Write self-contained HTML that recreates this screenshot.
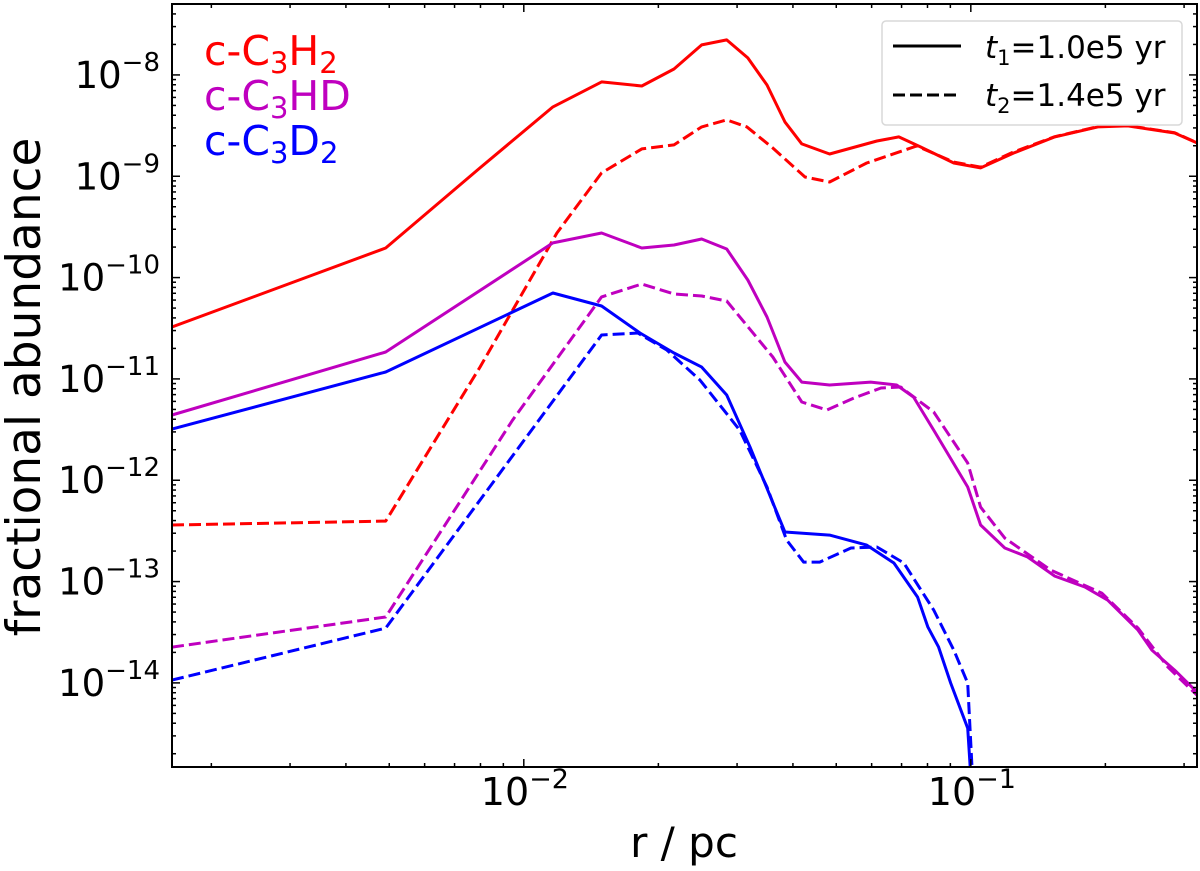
<!DOCTYPE html>
<html><head><meta charset="utf-8">
<style>
html,body{margin:0;padding:0;background:#fff;}
svg{display:block;font-family:"DejaVu Sans","Liberation Sans",sans-serif;}
</style></head>
<body>
<svg id="chart" width="1200" height="871" viewBox="0 0 1200 871" xmlns="http://www.w3.org/2000/svg">
<defs><clipPath id="plotclip"><rect x="172" y="4" width="1025" height="763"/></clipPath></defs>
<g id="series" clip-path="url(#plotclip)"></g>
<g id="axes"></g>
<g font-size="41">
  <text x="204" y="65" fill="#ff0000">c-C<tspan font-size="29" dy="8">3</tspan><tspan dy="-8">H</tspan><tspan font-size="29" dy="8">2</tspan></text>
  <text x="204" y="110" fill="#bf00bf">c-C<tspan font-size="29" dy="8">3</tspan><tspan dy="-8">HD</tspan></text>
  <text x="204" y="155" fill="#0000ff">c-C<tspan font-size="29" dy="8">3</tspan><tspan dy="-8">D</tspan><tspan font-size="29" dy="8">2</tspan></text>
</g>
<g>
  <rect x="882" y="21" width="300" height="104" rx="4" fill="#fff" stroke="#d8d8d8" stroke-width="1.5"/>
  <line x1="893" y1="46" x2="961" y2="46" stroke="#000" stroke-width="3"/>
  <line x1="893" y1="95" x2="961" y2="95" stroke="#000" stroke-width="3" stroke-dasharray="12,5"/>
  <text x="985" y="58" font-size="31"><tspan font-style="italic">t</tspan><tspan font-size="21" dy="7">1</tspan><tspan dy="-7">=1.0e5 yr</tspan></text>
  <text x="985" y="106" font-size="31"><tspan font-style="italic">t</tspan><tspan font-size="21" dy="7">2</tspan><tspan dy="-7">=1.4e5 yr</tspan></text>
</g>
<text x="684" y="857" font-size="42" text-anchor="middle">r / pc</text>
<text transform="translate(40,387) rotate(-90)" font-size="47" text-anchor="middle">fractional abundance</text>
</svg>
<script>
// log10(r / pc) and log10(abundance)
const h2SolidLogR = [-2.787,-2.309,-2.098,-1.935,-1.826,-1.736,-1.664,-1.602,-1.546,-1.499,-1.456,-1.416,-1.378,-1.316,-1.210,-1.161,-1.112,-1.038,-0.978,-0.904,-0.812,-0.716,-0.649,-0.544,-0.494];
const h2SolidLogY = [-10.488,-9.708,-8.918,-8.316,-8.069,-8.109,-7.941,-7.704,-7.654,-7.832,-8.099,-8.464,-8.681,-8.780,-8.652,-8.612,-8.711,-8.869,-8.918,-8.770,-8.612,-8.513,-8.503,-8.573,-8.671];
const h2DashLogR = [-2.787,-2.309,-2.098,-1.926,-1.826,-1.736,-1.664,-1.602,-1.546,-1.501,-1.443,-1.371,-1.316,-1.233,-1.121,-1.038,-0.978,-0.904,-0.812,-0.716,-0.649,-0.544,-0.494];
const h2DashLogY = [-12.442,-12.403,-10.883,-9.560,-8.967,-8.730,-8.691,-8.513,-8.444,-8.513,-8.721,-9.007,-9.057,-8.869,-8.701,-8.860,-8.910,-8.760,-8.610,-8.510,-8.500,-8.570,-8.670];
const hdSolidLogR = [-2.787,-2.309,-1.935,-1.826,-1.736,-1.664,-1.602,-1.546,-1.499,-1.456,-1.416,-1.378,-1.316,-1.224,-1.166,-1.128,-1.083,-1.007,-0.978,-0.924,-0.873,-0.812,-0.745,-0.694,-0.626,-0.595,-0.544,-0.494];
const hdSolidLogY = [-11.356,-10.734,-9.658,-9.560,-9.708,-9.678,-9.619,-9.718,-10.024,-10.389,-10.833,-11.031,-11.060,-11.031,-11.060,-11.179,-11.505,-12.067,-12.442,-12.669,-12.758,-12.946,-13.054,-13.183,-13.479,-13.676,-13.874,-14.091];
const hdDashLogR = [-2.787,-2.309,-2.025,-1.826,-1.736,-1.664,-1.602,-1.546,-1.443,-1.378,-1.322,-1.262,-1.201,-1.157,-1.083,-1.007,-0.978,-0.924,-0.821,-0.707,-0.626,-0.559,-0.494];
const hdDashLogY = [-13.647,-13.350,-11.406,-10.191,-10.063,-10.162,-10.182,-10.231,-10.784,-11.228,-11.307,-11.189,-11.090,-11.080,-11.327,-11.830,-12.265,-12.571,-12.887,-13.114,-13.459,-13.844,-14.121];
const d2SolidLogR = [-2.787,-2.309,-1.935,-1.826,-1.740,-1.664,-1.602,-1.546,-1.494,-1.416,-1.316,-1.233,-1.172,-1.119,-1.096,-1.072,-1.045,-1.007,-0.996];
const d2SolidLogY = [-11.495,-10.932,-10.152,-10.280,-10.547,-10.744,-10.883,-11.159,-11.672,-12.511,-12.541,-12.640,-12.817,-13.153,-13.449,-13.647,-14.002,-14.447,-15.2];
const d2DashLogR = [-2.787,-2.309,-1.826,-1.745,-1.680,-1.606,-1.517,-1.456,-1.412,-1.374,-1.338,-1.268,-1.210,-1.150,-1.083,-1.038,-1.007,-0.993];
const d2DashLogY = [-13.972,-13.459,-10.567,-10.547,-10.715,-11.011,-11.505,-12.067,-12.590,-12.808,-12.808,-12.669,-12.659,-12.817,-13.281,-13.676,-14.002,-15.2];
const xMajorExps = [-2,-1];
const yMajorExps = [-14,-13,-12,-11,-10,-9,-8];

const L=172,R=1197,T=4,B=767;
const xMin=-2.787,xMax=-0.494,yMin=-14.83,yMax=-7.30;
function X(lr){return L+(lr-xMin)/(xMax-xMin)*(R-L);}
function Y(ly){return B-(ly-yMin)/(yMax-yMin)*(B-T);}
const NS="http://www.w3.org/2000/svg";
function mk(tag,attrs,parent){const e=document.createElementNS(NS,tag);for(const k in attrs)e.setAttribute(k,attrs[k]);parent.appendChild(e);return e;}

const sg=document.getElementById('series');
function line(lr,ly,color,dash,name){
  const d=lr.map((v,i)=>(i?'L':'M')+X(v).toFixed(1)+','+Y(ly[i]).toFixed(1)).join('');
  const p=mk('path',{d:d,fill:'none',stroke:color,'stroke-width':3,'stroke-linejoin':'round'},sg);
  if(dash)p.setAttribute('stroke-dasharray','12,5');
  
  
}
line(h2DashLogR,h2DashLogY,'#ff0000',true,'c-c3h2-t2-line');
line(hdDashLogR,hdDashLogY,'#bf00bf',true,'c-c3hd-t2-line');
line(d2DashLogR,d2DashLogY,'#0000ff',true,'c-c3d2-t2-line');
line(h2SolidLogR,h2SolidLogY,'#ff0000',false,'c-c3h2-t1-line');
line(hdSolidLogR,hdSolidLogY,'#bf00bf',false,'c-c3hd-t1-line');
line(d2SolidLogR,d2SolidLogY,'#0000ff',false,'c-c3d2-t1-line');

const ag=document.getElementById('axes');
const frame=mk('rect',{x:L,y:T,width:R-L,height:B-T,fill:'none',stroke:'#000','stroke-width':2},ag);


for(let e=-3;e<=0;e++){for(let m=1;m<10;m++){
  const lv=e+Math.log10(m); if(lv<xMin||lv>xMax)continue;
  const x=X(lv), len=(m===1)?8:4;
  mk('line',{x1:x,y1:B,x2:x,y2:B-len,stroke:'#000','stroke-width':1.5},ag);
  mk('line',{x1:x,y1:T,x2:x,y2:T+len,stroke:'#000','stroke-width':1.5},ag);
}}
xMajorExps.forEach(e=>{
  const t=mk('text',{x:X(e)-43,y:805,'font-size':38},ag);
  
  
  t.innerHTML='10<tspan font-size="27" dy="-17">\u2212'+(-e)+'</tspan>';
});
for(let e=-15;e<=-7;e++){for(let m=1;m<10;m++){
  const lv=e+Math.log10(m); if(lv<yMin||lv>yMax)continue;
  const y=Y(lv), len=(m===1)?8:4;
  mk('line',{x1:L,y1:y,x2:L+len,y2:y,stroke:'#000','stroke-width':1.5},ag);
  mk('line',{x1:R,y1:y,x2:R-len,y2:y,stroke:'#000','stroke-width':1.5},ag);
}}
yMajorExps.forEach(e=>{
  const t=mk('text',{x:160,y:Y(e)+13,'font-size':37,'text-anchor':'end'},ag);
  
  
  t.innerHTML='10<tspan font-size="26" dy="-17">\u2212'+(-e)+'</tspan>';
});
</script>
</body></html>
